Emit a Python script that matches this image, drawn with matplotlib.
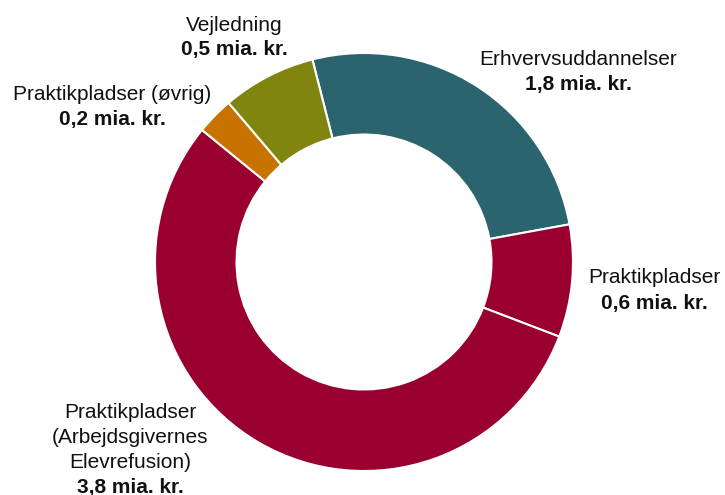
import matplotlib
matplotlib.use("Agg")
import matplotlib.pyplot as plt

plt.rcParams['font.family'] = ['Liberation Sans', 'DejaVu Sans']

names = ["Erhvervsuddannelser", "Praktikpladser",
         "Praktikpladser\n(Arbejdsgivernes\nElevrefusion)",
         "Praktikpladser (øvrig)", "Vejledning"]
values = [1.8, 0.6, 3.8, 0.2, 0.5]
value_labels = ["1,8 mia. kr.", "0,6 mia. kr.", "3,8 mia. kr.", "0,2 mia. kr.", "0,5 mia. kr."]
colors = ["#2b636e", "#99002f", "#99002f", "#c87300", "#80850f"]

W, H = 725, 495
dpi = 100
fig = plt.figure(figsize=(W / dpi, H / dpi), dpi=dpi)
ax = fig.add_axes([0, 0, 1, 1])

cx, cy, R = 364, 262, 209  # pixel centre and radius
ax.set_xlim(-cx / R, (W - cx) / R)
ax.set_ylim(-(H - cy) / R, cy / R)
ax.set_aspect('equal')
ax.axis('off')

ax.pie(values, colors=colors, startangle=104.3, counterclock=False,
       radius=1.0, wedgeprops=dict(width=0.39, edgecolor='white', linewidth=1.5))
ax.set_xlim(-cx / R, (W - cx) / R)
ax.set_ylim(-(H - cy) / R, cy / R)

# label anchor positions (pixel x-centre, list of baselines)
label_pos = [
    (578, [65, 90]),
    (654, [283, 309]),
    (130, [418, 443, 468, 493]),
    (112, [100, 125]),
    (234, [31, 55]),
]

fs = 15
for name, vl, (px, bases) in zip(names, value_labels, label_pos):
    lines = name.split("\n")
    x = (px - cx) / R
    for i, ln in enumerate(lines):
        ax.text(x, (cy - bases[i]) / R, ln, ha='center', va='baseline',
                fontsize=fs, color='#111111')
    ax.text(x, (cy - bases[len(lines)]) / R, vl, ha='center', va='baseline',
            fontsize=fs, fontweight='bold', color='#111111')

fig.savefig("out.png", dpi=dpi)
